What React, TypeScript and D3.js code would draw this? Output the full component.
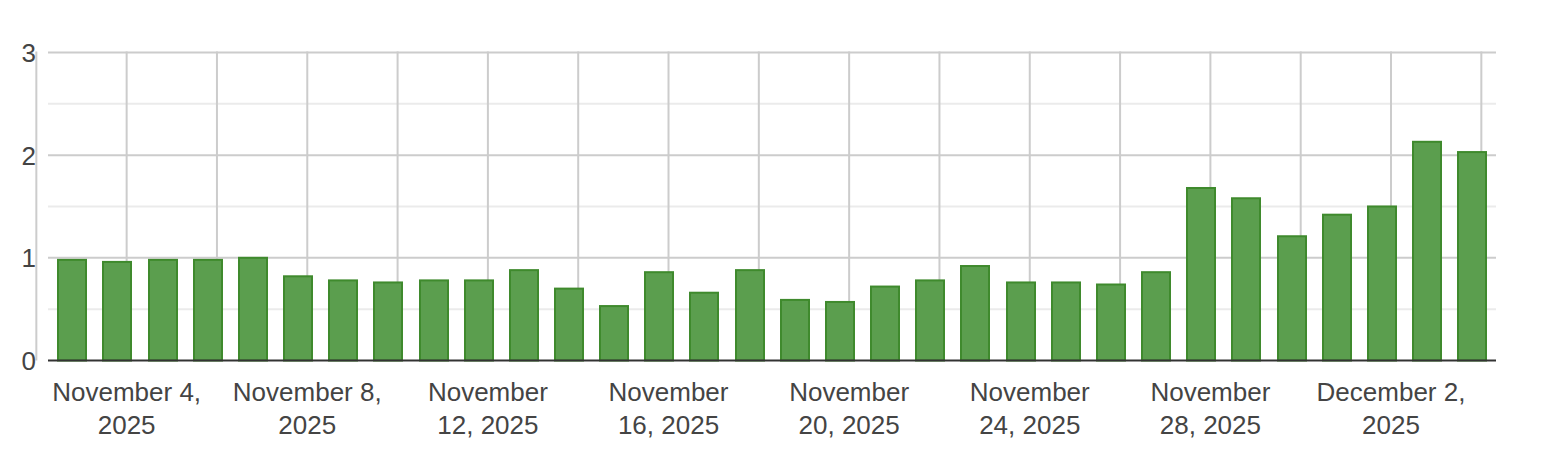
import React from "react";
import * as d3 from "d3";

const dates = [
  "2025-11-03", "2025-11-04", "2025-11-05", "2025-11-06", "2025-11-07", "2025-11-08",
  "2025-11-09", "2025-11-10", "2025-11-11", "2025-11-12", "2025-11-13", "2025-11-14",
  "2025-11-15", "2025-11-16", "2025-11-17", "2025-11-18", "2025-11-19", "2025-11-20",
  "2025-11-21", "2025-11-22", "2025-11-23", "2025-11-24", "2025-11-25", "2025-11-26",
  "2025-11-27", "2025-11-28", "2025-11-29", "2025-11-30", "2025-12-01", "2025-12-02",
  "2025-12-03", "2025-12-04",
];

const values = [
  0.99, 0.97, 0.99, 0.99, 1.01, 0.83,
  0.79, 0.77, 0.79, 0.79, 0.89, 0.71,
  0.54, 0.87, 0.67, 0.89, 0.60, 0.58,
  0.73, 0.79, 0.93, 0.77, 0.77, 0.75,
  0.87, 1.69, 1.59, 1.22, 1.43, 1.51,
  2.14, 2.04,
];

const yTicks = [0, 1, 2, 3];
const yMinorTicks = [0.5, 1.5, 2.5];

const xTickDates = [
  "2025-11-04", "2025-11-08", "2025-11-12", "2025-11-16",
  "2025-11-20", "2025-11-24", "2025-11-28", "2025-12-02",
];
const xTickLabels = [
  ["November 4,", "2025"],
  ["November 8,", "2025"],
  ["November", "12, 2025"],
  ["November", "16, 2025"],
  ["November", "20, 2025"],
  ["November", "24, 2025"],
  ["November", "28, 2025"],
  ["December 2,", "2025"],
];

const W = 1544;
const H = 474;
const plot = { left: 48, right: 1496, top: 52.5, bottom: 360.5 };
const FONT = "'Liberation Sans', Arial, sans-serif";
const HOUR = 3600 * 1000;
const TZ_SHIFT = -5 * HOUR;

export default function App() {
  const barTimes = dates.map((d) => new Date(Date.parse(d + "T00:00:00Z") + TZ_SHIFT));
  const first = barTimes[0].getTime();
  const last = barTimes[barTimes.length - 1].getTime();
  const pad = 12.8 * HOUR;
  const x = d3.scaleUtc().domain([new Date(first - pad), new Date(last + pad)]).range([plot.left, plot.right]);
  const y = d3.scaleLinear().domain([0, 3]).range([plot.bottom, plot.top]);

  const dayW = x(new Date(first + 24 * HOUR)) - x(new Date(first));
  const barW = dayW * 0.655;

  const startGrid = new Date(Date.parse(xTickDates[0] + "T00:00:00Z"));
  const domain = x.domain();
  const gridDays = d3.utcDay
    .range(d3.utcDay.floor(domain[0]), domain[1])
    .filter((d) => Math.round((d.getTime() - startGrid.getTime()) / (24 * HOUR)) % 2 === 0);

  return (
    <svg width={W} height={H} style={{ display: "block", position: "absolute", left: 0, top: 0 }}>
      <rect x={0} y={0} width={W} height={H} fill="#ffffff" />
      {yMinorTicks.map((t) => (
        <line key={"m" + t} x1={plot.left} x2={plot.right} y1={y(t)} y2={y(t)} stroke="#ebebeb" strokeWidth={2} />
      ))}
      {yTicks.filter((t) => t !== 0).map((t) => (
        <line key={"g" + t} x1={plot.left} x2={plot.right} y1={y(t)} y2={y(t)} stroke="#cccccc" strokeWidth={2} />
      ))}
      {gridDays.map((d) => (
        <line key={"v" + d.getTime()} x1={x(d)} x2={x(d)} y1={plot.top - 1} y2={plot.bottom} stroke="#cccccc" strokeWidth={2} />
      ))}
      {values.map((v, i) => {
        const cx = x(barTimes[i]);
        const x0 = Math.round(cx - barW / 2);
        const yTop = y(v);
        return (
          <rect
            key={"b" + i}
            x={x0 + 1}
            y={yTop + 1}
            width={Math.round(barW) - 2}
            height={plot.bottom - yTop - 1}
            fill="#5b9e4e"
            stroke="#3f8a2d"
            strokeWidth={2}
          />
        );
      })}
      <line x1={plot.left} x2={plot.right} y1={plot.bottom} y2={plot.bottom} stroke="#333333" strokeWidth={2} />
      {yTicks.map((t) => (
        <text key={"yl" + t} x={36} y={y(t) + 9.5} textAnchor="end" fontFamily={FONT} fontSize={26} fill="#444444">
          {t}
        </text>
      ))}
      {xTickDates.map((d, i) => {
        const cx = x(new Date(Date.parse(d + "T00:00:00Z")));
        return (
          <text key={"xl" + d} textAnchor="middle" fontFamily={FONT} fontSize={26} fill="#444444">
            {xTickLabels[i].map((line, j) => (
              <tspan key={j} x={cx} y={400.5 + j * 33.5}>
                {line}
              </tspan>
            ))}
          </text>
        );
      })}
    </svg>
  );
}
